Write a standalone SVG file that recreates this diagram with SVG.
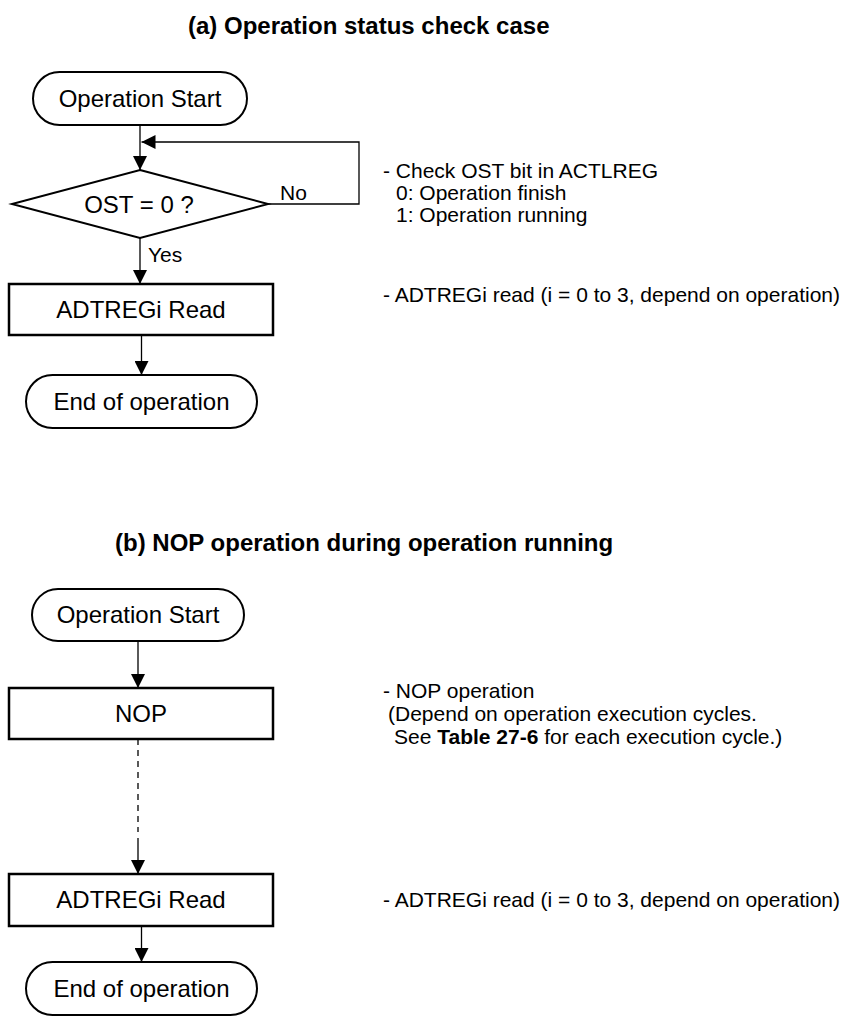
<svg xmlns="http://www.w3.org/2000/svg" width="854" height="1017" viewBox="0 0 854 1017">
<style>
text{font-family:"Liberation Sans",Arial,sans-serif;fill:#000}
.t{font-size:24px;text-anchor:middle}
.n{font-size:21px}
.h{font-size:24px;font-weight:bold}
.term{fill:#fff;stroke:#000;stroke-width:2}
.box{fill:#fff;stroke:#000;stroke-width:2.5}
.dia{fill:#fff;stroke:#000;stroke-width:2}
.c{fill:none;stroke:#000;stroke-width:1.3}
.d{fill:none;stroke:#000;stroke-width:1.3;stroke-dasharray:6,5}
</style>
<defs>
<marker id="ah" viewBox="0 0 14 14" refX="14" refY="7" markerWidth="14" markerHeight="14" markerUnits="userSpaceOnUse" orient="auto">
<path d="M0,0 L14,7 L0,14 Z" fill="#000"/>
</marker>
</defs>
<text class="h" x="188" y="34">(a) Operation status check case</text>
<text class="h" x="115" y="551">(b) NOP operation during operation running</text>
<g id="connectors">
<path class="c" d="M140,125 V170" marker-end="url(#ah)"/>
<path class="c" d="M268,204 H359 V142 H141.5" marker-end="url(#ah)"/>
<path class="c" d="M140,238 V284" marker-end="url(#ah)"/>
<path class="c" d="M141.5,335 V375" marker-end="url(#ah)"/>
<path class="c" d="M138,641 V688" marker-end="url(#ah)"/>
<path class="d" d="M138,739 V832"/>
<path class="c" d="M138,838 V874" marker-end="url(#ah)"/>
<path class="c" d="M141.5,926 V962" marker-end="url(#ah)"/>
<text class="n" x="280" y="200">No</text>
<text class="n" x="148" y="262">Yes</text>
</g>
<g id="a_start"><rect class="term" x="33" y="72" width="214" height="53" rx="26.5"/><text class="t" x="140" y="107">Operation Start</text></g>
<g id="a_check"><path class="dia" d="M140,170 L268,204 L140,238 L12,204 Z"/><text class="t" x="139" y="213">OST = 0 ?</text></g>
<g id="a_read"><rect class="box" x="9" y="284" width="264" height="51"/><text class="t" x="141" y="318">ADTREGi Read</text></g>
<g id="a_end"><rect class="term" x="26" y="375" width="231" height="53" rx="26.5"/><text class="t" x="141.5" y="410">End of operation</text></g>
<g id="a_notes">
<text class="n" x="383" y="178">- Check OST bit in ACTLREG</text>
<text class="n" x="396" y="200">0: Operation finish</text>
<text class="n" x="396" y="222">1: Operation running</text>
<text class="n" x="383" y="302">- ADTREGi read (i = 0 to 3, depend on operation)</text>
</g>
<g id="b_start"><rect class="term" x="32" y="589" width="212" height="52" rx="26"/><text class="t" x="138" y="623">Operation Start</text></g>
<g id="b_nop"><rect class="box" x="9" y="688" width="264" height="51"/><text class="t" x="141" y="722">NOP</text></g>
<g id="b_read"><rect class="box" x="9" y="874" width="264" height="52"/><text class="t" x="141" y="908">ADTREGi Read</text></g>
<g id="b_end"><rect class="term" x="26" y="962" width="231" height="53" rx="26.5"/><text class="t" x="141.5" y="997">End of operation</text></g>
<g id="b_notes">
<text class="n" x="383" y="698">- NOP operation</text>
<text class="n" x="388" y="721">(Depend on operation execution cycles.</text>
<text class="n" x="394" y="744">See <tspan font-weight="bold">Table 27-6</tspan> for each execution cycle.)</text>
<text class="n" x="383" y="907">- ADTREGi read (i = 0 to 3, depend on operation)</text>
</g>
</svg>
